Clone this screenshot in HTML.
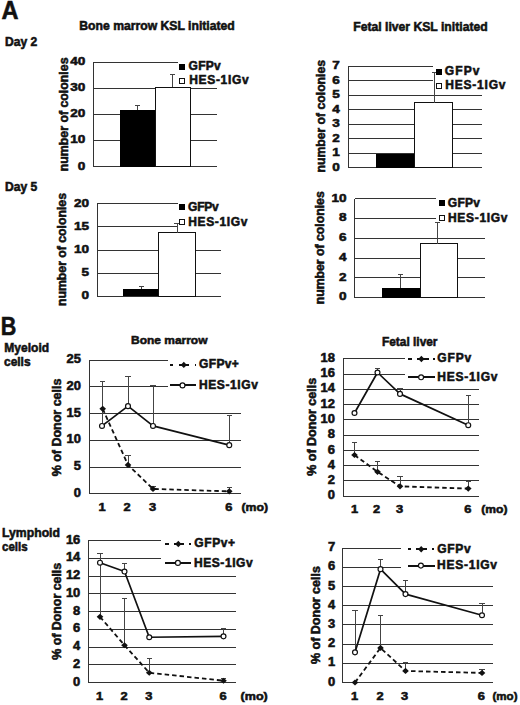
<!DOCTYPE html>
<html><head><meta charset="utf-8"><style>
html,body{margin:0;padding:0;background:#fff;width:520px;height:705px;overflow:hidden}
svg{display:block}
text{font-family:"Liberation Sans", sans-serif;fill:#111;stroke:#111;stroke-width:0.55px}
</style></head><body>
<svg width="520" height="705" viewBox="0 0 520 705">
<rect width="520" height="705" fill="#fff"/>
<text x="1.5" y="18.8" font-size="25.5" font-weight="bold" textLength="17" lengthAdjust="spacingAndGlyphs">A</text>
<text x="0.8" y="335" font-size="25.5" font-weight="bold" textLength="15.6" lengthAdjust="spacingAndGlyphs">B</text>
<text x="79.3" y="30.2" font-size="12" font-weight="bold" textLength="155.5" lengthAdjust="spacingAndGlyphs">Bone marrow KSL initiated</text>
<text x="353.2" y="31.2" font-size="12.3" font-weight="bold" textLength="134.5" lengthAdjust="spacingAndGlyphs">Fetal liver KSL initiated</text>
<text x="5" y="45.6" font-size="12.2" font-weight="bold" textLength="32.3" lengthAdjust="spacingAndGlyphs">Day 2</text>
<text x="5" y="190.6" font-size="12.2" font-weight="bold" textLength="32.3" lengthAdjust="spacingAndGlyphs">Day 5</text>
<text x="4.3" y="351.5" font-size="12.3" font-weight="bold" textLength="44.8" lengthAdjust="spacingAndGlyphs">Myeloid</text>
<text x="4" y="365.5" font-size="12.3" font-weight="bold" textLength="26.6" lengthAdjust="spacingAndGlyphs">cells</text>
<text x="2" y="537" font-size="12.3" font-weight="bold" textLength="58" lengthAdjust="spacingAndGlyphs">Lymphoid</text>
<text x="2" y="550.5" font-size="12.3" font-weight="bold" textLength="25.7" lengthAdjust="spacingAndGlyphs">cells</text>
<text x="131" y="344.3" font-size="11.7" font-weight="bold" textLength="76.5" lengthAdjust="spacingAndGlyphs">Bone marrow</text>
<text x="382" y="345.5" font-size="12" font-weight="bold" textLength="55.5" lengthAdjust="spacingAndGlyphs">Fetal liver</text>
<line x1="93.4" y1="166.7" x2="217" y2="166.7" stroke="#333" stroke-width="1" shape-rendering="crispEdges"/>
<text transform="translate(85.3,169.6) scale(1.18,1)" x="0" y="0" font-size="11.5" font-weight="bold" text-anchor="end">0</text>
<line x1="93.4" y1="140.52499999999998" x2="217" y2="140.52499999999998" stroke="#333" stroke-width="1" shape-rendering="crispEdges"/>
<text transform="translate(85.3,143.42499999999998) scale(1.18,1)" x="0" y="0" font-size="11.5" font-weight="bold" text-anchor="end">10</text>
<line x1="93.4" y1="114.35" x2="217" y2="114.35" stroke="#333" stroke-width="1" shape-rendering="crispEdges"/>
<text transform="translate(85.3,117.25) scale(1.18,1)" x="0" y="0" font-size="11.5" font-weight="bold" text-anchor="end">20</text>
<line x1="93.4" y1="88.175" x2="217" y2="88.175" stroke="#333" stroke-width="1" shape-rendering="crispEdges"/>
<text transform="translate(85.3,91.075) scale(1.18,1)" x="0" y="0" font-size="11.5" font-weight="bold" text-anchor="end">30</text>
<line x1="93.4" y1="62.0" x2="177.5" y2="62.0" stroke="#333" stroke-width="1" shape-rendering="crispEdges"/>
<text transform="translate(85.3,64.9) scale(1.18,1)" x="0" y="0" font-size="11.5" font-weight="bold" text-anchor="end">40</text>
<line x1="93.4" y1="62.0" x2="93.4" y2="166.7" stroke="#333" stroke-width="1" shape-rendering="crispEdges"/>
<rect x="119.5" y="110.42375" width="36.0" height="56.27624999999999" fill="#000" shape-rendering="crispEdges"/>
<rect x="155.5" y="87.128" width="35.0" height="79.57199999999999" fill="#fff" stroke="#111" stroke-width="1" shape-rendering="crispEdges"/>
<line x1="137.8" y1="110.42375" x2="137.8" y2="105.6" stroke="#444" stroke-width="1" shape-rendering="crispEdges"/>
<line x1="135.20000000000002" y1="105.6" x2="140.4" y2="105.6" stroke="#444" stroke-width="1" shape-rendering="crispEdges"/>
<line x1="172.8" y1="87.128" x2="172.8" y2="74.0" stroke="#444" stroke-width="1" shape-rendering="crispEdges"/>
<line x1="170.20000000000002" y1="74.0" x2="175.4" y2="74.0" stroke="#444" stroke-width="1" shape-rendering="crispEdges"/>
<text transform="translate(68.0,171.2) rotate(-90)" x="0" y="0" font-size="12" font-weight="bold" textLength="113.69999999999999" lengthAdjust="spacingAndGlyphs">number of colonies</text>
<rect x="179.3" y="63.5" width="6" height="6" fill="#000" shape-rendering="crispEdges"/>
<rect x="179.6" y="78.30000000000001" width="5.3" height="5.3" fill="#fff" stroke="#111" stroke-width="1" shape-rendering="crispEdges"/>
<text x="188.5" y="69.8" font-size="12" font-weight="bold" textLength="32.3" lengthAdjust="spacing">GFPv</text>
<text x="189.3" y="84.4" font-size="12" font-weight="bold" textLength="59.3" lengthAdjust="spacing">HES-1IGv</text>
<line x1="348.0" y1="167.75" x2="482" y2="167.75" stroke="#333" stroke-width="1" shape-rendering="crispEdges"/>
<text transform="translate(339.8,170.65) scale(1.18,1)" x="0" y="0" font-size="11.5" font-weight="bold" text-anchor="end">0</text>
<line x1="348.0" y1="153.25" x2="482" y2="153.25" stroke="#333" stroke-width="1" shape-rendering="crispEdges"/>
<text transform="translate(339.8,156.15) scale(1.18,1)" x="0" y="0" font-size="11.5" font-weight="bold" text-anchor="end">1</text>
<line x1="348.0" y1="138.75" x2="482" y2="138.75" stroke="#333" stroke-width="1" shape-rendering="crispEdges"/>
<text transform="translate(339.8,141.65) scale(1.18,1)" x="0" y="0" font-size="11.5" font-weight="bold" text-anchor="end">2</text>
<line x1="348.0" y1="124.25" x2="482" y2="124.25" stroke="#333" stroke-width="1" shape-rendering="crispEdges"/>
<text transform="translate(339.8,127.15) scale(1.18,1)" x="0" y="0" font-size="11.5" font-weight="bold" text-anchor="end">3</text>
<line x1="348.0" y1="109.75" x2="482" y2="109.75" stroke="#333" stroke-width="1" shape-rendering="crispEdges"/>
<text transform="translate(339.8,112.65) scale(1.18,1)" x="0" y="0" font-size="11.5" font-weight="bold" text-anchor="end">4</text>
<line x1="348.0" y1="95.25" x2="482" y2="95.25" stroke="#333" stroke-width="1" shape-rendering="crispEdges"/>
<text transform="translate(339.8,98.15) scale(1.18,1)" x="0" y="0" font-size="11.5" font-weight="bold" text-anchor="end">5</text>
<line x1="348.0" y1="80.75" x2="432.5" y2="80.75" stroke="#333" stroke-width="1" shape-rendering="crispEdges"/>
<text transform="translate(339.8,83.65) scale(1.18,1)" x="0" y="0" font-size="11.5" font-weight="bold" text-anchor="end">6</text>
<line x1="348.0" y1="66.25" x2="432.5" y2="66.25" stroke="#333" stroke-width="1" shape-rendering="crispEdges"/>
<text transform="translate(339.8,69.15) scale(1.18,1)" x="0" y="0" font-size="11.5" font-weight="bold" text-anchor="end">7</text>
<line x1="348.0" y1="66.25" x2="348.0" y2="167.75" stroke="#333" stroke-width="1" shape-rendering="crispEdges"/>
<rect x="376.25" y="153.685" width="38.25" height="14.064999999999998" fill="#000" shape-rendering="crispEdges"/>
<rect x="414.5" y="102.5" width="38.0" height="65.25" fill="#fff" stroke="#111" stroke-width="1" shape-rendering="crispEdges"/>
<line x1="434.5" y1="102.5" x2="434.5" y2="72.2" stroke="#444" stroke-width="1" shape-rendering="crispEdges"/>
<line x1="431.9" y1="72.2" x2="437.1" y2="72.2" stroke="#444" stroke-width="1" shape-rendering="crispEdges"/>
<text transform="translate(325.0,172.5) rotate(-90)" x="0" y="0" font-size="12" font-weight="bold" textLength="112.5" lengthAdjust="spacingAndGlyphs">number of colonies</text>
<rect x="436.1" y="68.5" width="6" height="6" fill="#000" shape-rendering="crispEdges"/>
<rect x="436.59999999999997" y="83.2" width="5.3" height="5.3" fill="#fff" stroke="#111" stroke-width="1" shape-rendering="crispEdges"/>
<text x="444.8" y="74.8" font-size="12" font-weight="bold" textLength="34.7" lengthAdjust="spacing">GFPv</text>
<text x="445.3" y="89.3" font-size="12" font-weight="bold" textLength="60.2" lengthAdjust="spacing">HES-1IGv</text>
<line x1="97.0" y1="296.25" x2="221.25" y2="296.25" stroke="#333" stroke-width="1" shape-rendering="crispEdges"/>
<text transform="translate(89.0,299.15) scale(1.18,1)" x="0" y="0" font-size="11.5" font-weight="bold" text-anchor="end">0</text>
<line x1="97.0" y1="273.125" x2="221.25" y2="273.125" stroke="#333" stroke-width="1" shape-rendering="crispEdges"/>
<text transform="translate(89.0,276.025) scale(1.18,1)" x="0" y="0" font-size="11.5" font-weight="bold" text-anchor="end">5</text>
<line x1="97.0" y1="250.0" x2="221.25" y2="250.0" stroke="#333" stroke-width="1" shape-rendering="crispEdges"/>
<text transform="translate(89.0,252.9) scale(1.18,1)" x="0" y="0" font-size="11.5" font-weight="bold" text-anchor="end">10</text>
<line x1="97.0" y1="226.875" x2="177.5" y2="226.875" stroke="#333" stroke-width="1" shape-rendering="crispEdges"/>
<text transform="translate(89.0,229.775) scale(1.18,1)" x="0" y="0" font-size="11.5" font-weight="bold" text-anchor="end">15</text>
<line x1="97.0" y1="203.75" x2="177.5" y2="203.75" stroke="#333" stroke-width="1" shape-rendering="crispEdges"/>
<text transform="translate(89.0,206.65) scale(1.18,1)" x="0" y="0" font-size="11.5" font-weight="bold" text-anchor="end">20</text>
<line x1="97.0" y1="203.75" x2="97.0" y2="296.25" stroke="#333" stroke-width="1" shape-rendering="crispEdges"/>
<rect x="123.25" y="288.85" width="35.5" height="7.399999999999977" fill="#000" shape-rendering="crispEdges"/>
<rect x="158.75" y="232.65625" width="36.25" height="63.59375" fill="#fff" stroke="#111" stroke-width="1" shape-rendering="crispEdges"/>
<line x1="141.25" y1="288.85" x2="141.25" y2="286.75" stroke="#444" stroke-width="1" shape-rendering="crispEdges"/>
<line x1="138.65" y1="286.75" x2="143.85" y2="286.75" stroke="#444" stroke-width="1" shape-rendering="crispEdges"/>
<line x1="177" y1="232.65625" x2="177" y2="223.75" stroke="#444" stroke-width="1" shape-rendering="crispEdges"/>
<line x1="174.4" y1="223.75" x2="179.6" y2="223.75" stroke="#444" stroke-width="1" shape-rendering="crispEdges"/>
<text transform="translate(65.8,306.0) rotate(-90)" x="0" y="0" font-size="12" font-weight="bold" textLength="113.0" lengthAdjust="spacingAndGlyphs">number of colonies</text>
<rect x="179.10000000000002" y="204.3" width="6" height="6" fill="#000" shape-rendering="crispEdges"/>
<rect x="179.4" y="219.4" width="5.3" height="5.3" fill="#fff" stroke="#111" stroke-width="1" shape-rendering="crispEdges"/>
<text x="188.0" y="210.5" font-size="12" font-weight="bold" textLength="30.8" lengthAdjust="spacing">GFPv</text>
<text x="188.2" y="225.5" font-size="12" font-weight="bold" textLength="59.3" lengthAdjust="spacing">HES-1IGv</text>
<line x1="354.5" y1="297.5" x2="484.5" y2="297.5" stroke="#333" stroke-width="1" shape-rendering="crispEdges"/>
<text transform="translate(346.5,300.4) scale(1.18,1)" x="0" y="0" font-size="11.5" font-weight="bold" text-anchor="end">0</text>
<line x1="354.5" y1="277.75" x2="484.5" y2="277.75" stroke="#333" stroke-width="1" shape-rendering="crispEdges"/>
<text transform="translate(346.5,280.65) scale(1.18,1)" x="0" y="0" font-size="11.5" font-weight="bold" text-anchor="end">2</text>
<line x1="354.5" y1="258.0" x2="484.5" y2="258.0" stroke="#333" stroke-width="1" shape-rendering="crispEdges"/>
<text transform="translate(346.5,260.9) scale(1.18,1)" x="0" y="0" font-size="11.5" font-weight="bold" text-anchor="end">4</text>
<line x1="354.5" y1="238.25" x2="484.5" y2="238.25" stroke="#333" stroke-width="1" shape-rendering="crispEdges"/>
<text transform="translate(346.5,241.15) scale(1.18,1)" x="0" y="0" font-size="11.5" font-weight="bold" text-anchor="end">6</text>
<line x1="354.5" y1="218.5" x2="436" y2="218.5" stroke="#333" stroke-width="1" shape-rendering="crispEdges"/>
<text transform="translate(346.5,221.4) scale(1.18,1)" x="0" y="0" font-size="11.5" font-weight="bold" text-anchor="end">8</text>
<line x1="354.5" y1="198.75" x2="436" y2="198.75" stroke="#333" stroke-width="1" shape-rendering="crispEdges"/>
<text transform="translate(346.5,201.65) scale(1.18,1)" x="0" y="0" font-size="11.5" font-weight="bold" text-anchor="end">10</text>
<line x1="354.5" y1="198.75" x2="354.5" y2="297.5" stroke="#333" stroke-width="1" shape-rendering="crispEdges"/>
<rect x="382" y="288.11875" width="38" height="9.381250000000023" fill="#000" shape-rendering="crispEdges"/>
<rect x="420" y="243.68125" width="37.5" height="53.818749999999994" fill="#fff" stroke="#111" stroke-width="1" shape-rendering="crispEdges"/>
<line x1="400.75" y1="288.11875" x2="400.75" y2="274.0" stroke="#444" stroke-width="1" shape-rendering="crispEdges"/>
<line x1="398.15" y1="274.0" x2="403.35" y2="274.0" stroke="#444" stroke-width="1" shape-rendering="crispEdges"/>
<line x1="437.5" y1="243.68125" x2="437.5" y2="222.5" stroke="#444" stroke-width="1" shape-rendering="crispEdges"/>
<line x1="434.9" y1="222.5" x2="440.1" y2="222.5" stroke="#444" stroke-width="1" shape-rendering="crispEdges"/>
<text transform="translate(324.3,304.3) rotate(-90)" x="0" y="0" font-size="12" font-weight="bold" textLength="113.0" lengthAdjust="spacingAndGlyphs">number of colonies</text>
<rect x="439.1" y="200.4" width="6" height="6" fill="#000" shape-rendering="crispEdges"/>
<rect x="439.4" y="215.4" width="5.3" height="5.3" fill="#fff" stroke="#111" stroke-width="1" shape-rendering="crispEdges"/>
<text x="447.8" y="207.3" font-size="12" font-weight="bold" textLength="32.2" lengthAdjust="spacing">GFPv</text>
<text x="448.0" y="222.3" font-size="12" font-weight="bold" textLength="59.5" lengthAdjust="spacing">HES-1IGv</text>
<line x1="89.3" y1="493.75" x2="240.75" y2="493.75" stroke="#333" stroke-width="1" shape-rendering="crispEdges"/>
<text transform="translate(81.0,496.85) scale(1.08,1)" x="0" y="0" font-size="12" font-weight="bold" text-anchor="end">0</text>
<line x1="89.3" y1="467.05" x2="240.75" y2="467.05" stroke="#333" stroke-width="1" shape-rendering="crispEdges"/>
<text transform="translate(81.0,470.15000000000003) scale(1.08,1)" x="0" y="0" font-size="12" font-weight="bold" text-anchor="end">5</text>
<line x1="89.3" y1="440.35" x2="240.75" y2="440.35" stroke="#333" stroke-width="1" shape-rendering="crispEdges"/>
<text transform="translate(81.0,443.45000000000005) scale(1.08,1)" x="0" y="0" font-size="12" font-weight="bold" text-anchor="end">10</text>
<line x1="89.3" y1="413.65" x2="240.75" y2="413.65" stroke="#333" stroke-width="1" shape-rendering="crispEdges"/>
<text transform="translate(81.0,416.75) scale(1.08,1)" x="0" y="0" font-size="12" font-weight="bold" text-anchor="end">15</text>
<line x1="89.3" y1="386.95" x2="167.5" y2="386.95" stroke="#333" stroke-width="1" shape-rendering="crispEdges"/>
<text transform="translate(81.0,390.05) scale(1.08,1)" x="0" y="0" font-size="12" font-weight="bold" text-anchor="end">20</text>
<line x1="89.3" y1="360.25" x2="167.5" y2="360.25" stroke="#333" stroke-width="1" shape-rendering="crispEdges"/>
<text transform="translate(81.0,363.35) scale(1.08,1)" x="0" y="0" font-size="12" font-weight="bold" text-anchor="end">25</text>
<line x1="89.3" y1="360.25" x2="89.3" y2="493.75" stroke="#333" stroke-width="1" shape-rendering="crispEdges"/>
<text transform="translate(102,511.3) scale(1.17,1)" x="0" y="0" font-size="11" font-weight="bold" text-anchor="middle">1</text>
<text transform="translate(127.2,511.3) scale(1.17,1)" x="0" y="0" font-size="11" font-weight="bold" text-anchor="middle">2</text>
<text transform="translate(152.6,511.3) scale(1.17,1)" x="0" y="0" font-size="11" font-weight="bold" text-anchor="middle">3</text>
<text transform="translate(228.8,511.3) scale(1.17,1)" x="0" y="0" font-size="11" font-weight="bold" text-anchor="middle">6</text>
<text x="241.5" y="511.3" font-size="11" font-weight="bold" textLength="26.600000000000023" lengthAdjust="spacingAndGlyphs">(mo)</text>
<line x1="102.6" y1="425.932" x2="102.6" y2="381.25" stroke="#444" stroke-width="1" shape-rendering="crispEdges"/>
<line x1="100.0" y1="381.25" x2="105.19999999999999" y2="381.25" stroke="#444" stroke-width="1" shape-rendering="crispEdges"/>
<line x1="128" y1="406.174" x2="128" y2="376.25" stroke="#444" stroke-width="1" shape-rendering="crispEdges"/>
<line x1="125.4" y1="376.25" x2="130.6" y2="376.25" stroke="#444" stroke-width="1" shape-rendering="crispEdges"/>
<line x1="153" y1="425.932" x2="153" y2="385.0" stroke="#444" stroke-width="1" shape-rendering="crispEdges"/>
<line x1="150.4" y1="385.0" x2="155.6" y2="385.0" stroke="#444" stroke-width="1" shape-rendering="crispEdges"/>
<line x1="229.25" y1="445.156" x2="229.25" y2="415.75" stroke="#444" stroke-width="1" shape-rendering="crispEdges"/>
<line x1="226.65" y1="415.75" x2="231.85" y2="415.75" stroke="#444" stroke-width="1" shape-rendering="crispEdges"/>
<line x1="128" y1="464.914" x2="128" y2="455.0" stroke="#444" stroke-width="1" shape-rendering="crispEdges"/>
<line x1="125.4" y1="455.0" x2="130.6" y2="455.0" stroke="#444" stroke-width="1" shape-rendering="crispEdges"/>
<line x1="153" y1="488.944" x2="153" y2="486.25" stroke="#444" stroke-width="1" shape-rendering="crispEdges"/>
<line x1="150.4" y1="486.25" x2="155.6" y2="486.25" stroke="#444" stroke-width="1" shape-rendering="crispEdges"/>
<line x1="229.25" y1="491.347" x2="229.25" y2="487.0" stroke="#444" stroke-width="1" shape-rendering="crispEdges"/>
<line x1="226.65" y1="487.0" x2="231.85" y2="487.0" stroke="#444" stroke-width="1" shape-rendering="crispEdges"/>
<polyline points="102.7,408.844 128,464.914 153,488.944 229.25,491.347" fill="none" stroke="#111" stroke-width="1.8" stroke-dasharray="4.5 3" stroke-linejoin="round"/>
<polyline points="102,425.932 128,406.174 153,425.932 229.25,445.156" fill="none" stroke="#111" stroke-width="1.7" stroke-linejoin="round"/>
<path d="M102.7 405.74399999999997L106.0 408.844L102.7 411.944L99.4 408.844Z" fill="#111"/>
<path d="M128 461.81399999999996L131.3 464.914L128 468.014L124.7 464.914Z" fill="#111"/>
<path d="M153 485.844L156.3 488.944L153 492.04400000000004L149.7 488.944Z" fill="#111"/>
<path d="M229.25 488.24699999999996L232.55 491.347L229.25 494.447L225.95 491.347Z" fill="#111"/>
<circle cx="102" cy="425.932" r="2.45" fill="#fff" stroke="#111" stroke-width="1.2"/>
<circle cx="128" cy="406.174" r="2.45" fill="#fff" stroke="#111" stroke-width="1.2"/>
<circle cx="153" cy="425.932" r="2.45" fill="#fff" stroke="#111" stroke-width="1.2"/>
<circle cx="229.25" cy="445.156" r="2.45" fill="#fff" stroke="#111" stroke-width="1.2"/>
<text transform="translate(60.5,476.3) rotate(-90)" x="0" y="0" font-size="12" font-weight="bold" textLength="97.69999999999999" lengthAdjust="spacingAndGlyphs">% of Donor cells</text>
<line x1="170.1" y1="364.9" x2="173.3" y2="364.9" stroke="#111" stroke-width="2" shape-rendering="crispEdges"/>
<line x1="178.5" y1="364.9" x2="189.2" y2="364.9" stroke="#111" stroke-width="2" shape-rendering="crispEdges"/>
<path d="M183.8 361.7L186.9 364.9L183.8 368.09999999999997L180.70000000000002 364.9Z" fill="#111"/>
<line x1="194.5" y1="364.9" x2="196.3" y2="364.9" stroke="#111" stroke-width="2" shape-rendering="crispEdges"/>
<text x="199.0" y="368.4" font-size="12" font-weight="bold" textLength="39.8" lengthAdjust="spacing">GFPv+</text>
<line x1="169.6" y1="385.4" x2="196" y2="385.4" stroke="#111" stroke-width="2" shape-rendering="crispEdges"/>
<circle cx="182.5" cy="385.4" r="2.45" fill="#fff" stroke="#111" stroke-width="1.2"/>
<text x="199.0" y="389.0" font-size="12" font-weight="bold" textLength="58.9" lengthAdjust="spacing">HES-1IGv</text>
<line x1="343.25" y1="496.25" x2="478.75" y2="496.25" stroke="#333" stroke-width="1" shape-rendering="crispEdges"/>
<text transform="translate(335.0,499.35) scale(1.08,1)" x="0" y="0" font-size="12" font-weight="bold" text-anchor="end">0</text>
<line x1="343.25" y1="480.97222222222223" x2="478.75" y2="480.97222222222223" stroke="#333" stroke-width="1" shape-rendering="crispEdges"/>
<text transform="translate(335.0,484.07222222222225) scale(1.08,1)" x="0" y="0" font-size="12" font-weight="bold" text-anchor="end">2</text>
<line x1="343.25" y1="465.69444444444446" x2="478.75" y2="465.69444444444446" stroke="#333" stroke-width="1" shape-rendering="crispEdges"/>
<text transform="translate(335.0,468.7944444444445) scale(1.08,1)" x="0" y="0" font-size="12" font-weight="bold" text-anchor="end">4</text>
<line x1="343.25" y1="450.4166666666667" x2="478.75" y2="450.4166666666667" stroke="#333" stroke-width="1" shape-rendering="crispEdges"/>
<text transform="translate(335.0,453.5166666666667) scale(1.08,1)" x="0" y="0" font-size="12" font-weight="bold" text-anchor="end">6</text>
<line x1="343.25" y1="435.1388888888889" x2="478.75" y2="435.1388888888889" stroke="#333" stroke-width="1" shape-rendering="crispEdges"/>
<text transform="translate(335.0,438.23888888888894) scale(1.08,1)" x="0" y="0" font-size="12" font-weight="bold" text-anchor="end">8</text>
<line x1="343.25" y1="419.8611111111111" x2="478.75" y2="419.8611111111111" stroke="#333" stroke-width="1" shape-rendering="crispEdges"/>
<text transform="translate(335.0,422.9611111111111) scale(1.08,1)" x="0" y="0" font-size="12" font-weight="bold" text-anchor="end">10</text>
<line x1="343.25" y1="404.5833333333333" x2="478.75" y2="404.5833333333333" stroke="#333" stroke-width="1" shape-rendering="crispEdges"/>
<text transform="translate(335.0,407.68333333333334) scale(1.08,1)" x="0" y="0" font-size="12" font-weight="bold" text-anchor="end">12</text>
<line x1="343.25" y1="389.30555555555554" x2="478.75" y2="389.30555555555554" stroke="#333" stroke-width="1" shape-rendering="crispEdges"/>
<text transform="translate(335.0,392.40555555555557) scale(1.08,1)" x="0" y="0" font-size="12" font-weight="bold" text-anchor="end">14</text>
<line x1="343.25" y1="374.02777777777777" x2="405" y2="374.02777777777777" stroke="#333" stroke-width="1" shape-rendering="crispEdges"/>
<text transform="translate(335.0,377.1277777777778) scale(1.08,1)" x="0" y="0" font-size="12" font-weight="bold" text-anchor="end">16</text>
<line x1="343.25" y1="358.75" x2="405" y2="358.75" stroke="#333" stroke-width="1" shape-rendering="crispEdges"/>
<text transform="translate(335.0,361.85) scale(1.08,1)" x="0" y="0" font-size="12" font-weight="bold" text-anchor="end">18</text>
<line x1="343.25" y1="358.75" x2="343.25" y2="496.25" stroke="#333" stroke-width="1" shape-rendering="crispEdges"/>
<text transform="translate(354.5,513.2) scale(1.17,1)" x="0" y="0" font-size="11" font-weight="bold" text-anchor="middle">1</text>
<text transform="translate(376.5,513.2) scale(1.17,1)" x="0" y="0" font-size="11" font-weight="bold" text-anchor="middle">2</text>
<text transform="translate(399.5,513.2) scale(1.17,1)" x="0" y="0" font-size="11" font-weight="bold" text-anchor="middle">3</text>
<text transform="translate(467.8,513.2) scale(1.17,1)" x="0" y="0" font-size="11" font-weight="bold" text-anchor="middle">6</text>
<text x="481.3" y="513.2" font-size="11" font-weight="bold" textLength="26.19999999999999" lengthAdjust="spacingAndGlyphs">(mo)</text>
<line x1="377.5" y1="372.5" x2="377.5" y2="368.25" stroke="#444" stroke-width="1" shape-rendering="crispEdges"/>
<line x1="374.9" y1="368.25" x2="380.1" y2="368.25" stroke="#444" stroke-width="1" shape-rendering="crispEdges"/>
<line x1="400" y1="393.8888888888889" x2="400" y2="388.75" stroke="#444" stroke-width="1" shape-rendering="crispEdges"/>
<line x1="397.4" y1="388.75" x2="402.6" y2="388.75" stroke="#444" stroke-width="1" shape-rendering="crispEdges"/>
<line x1="468.25" y1="425.2083333333333" x2="468.25" y2="395.5" stroke="#444" stroke-width="1" shape-rendering="crispEdges"/>
<line x1="465.65" y1="395.5" x2="470.85" y2="395.5" stroke="#444" stroke-width="1" shape-rendering="crispEdges"/>
<line x1="354.5" y1="455.0" x2="354.5" y2="442.0" stroke="#444" stroke-width="1" shape-rendering="crispEdges"/>
<line x1="351.9" y1="442.0" x2="357.1" y2="442.0" stroke="#444" stroke-width="1" shape-rendering="crispEdges"/>
<line x1="377.5" y1="471.80555555555554" x2="377.5" y2="461.75" stroke="#444" stroke-width="1" shape-rendering="crispEdges"/>
<line x1="374.9" y1="461.75" x2="380.1" y2="461.75" stroke="#444" stroke-width="1" shape-rendering="crispEdges"/>
<line x1="400" y1="486.31944444444446" x2="400" y2="476.75" stroke="#444" stroke-width="1" shape-rendering="crispEdges"/>
<line x1="397.4" y1="476.75" x2="402.6" y2="476.75" stroke="#444" stroke-width="1" shape-rendering="crispEdges"/>
<line x1="468.25" y1="488.6111111111111" x2="468.25" y2="481.25" stroke="#444" stroke-width="1" shape-rendering="crispEdges"/>
<line x1="465.65" y1="481.25" x2="470.85" y2="481.25" stroke="#444" stroke-width="1" shape-rendering="crispEdges"/>
<polyline points="354.5,455.0 377.5,471.80555555555554 400,486.31944444444446 468.25,488.6111111111111" fill="none" stroke="#111" stroke-width="1.8" stroke-dasharray="4.5 3" stroke-linejoin="round"/>
<polyline points="354.5,412.9861111111111 377.5,372.5 400,393.8888888888889 468.25,425.2083333333333" fill="none" stroke="#111" stroke-width="1.7" stroke-linejoin="round"/>
<path d="M354.5 451.9L357.8 455.0L354.5 458.1L351.2 455.0Z" fill="#111"/>
<path d="M377.5 468.7055555555555L380.8 471.80555555555554L377.5 474.90555555555557L374.2 471.80555555555554Z" fill="#111"/>
<path d="M400 483.21944444444443L403.3 486.31944444444446L400 489.4194444444445L396.7 486.31944444444446Z" fill="#111"/>
<path d="M468.25 485.51111111111106L471.55 488.6111111111111L468.25 491.7111111111111L464.95 488.6111111111111Z" fill="#111"/>
<circle cx="354.5" cy="412.9861111111111" r="2.45" fill="#fff" stroke="#111" stroke-width="1.2"/>
<circle cx="377.5" cy="372.5" r="2.45" fill="#fff" stroke="#111" stroke-width="1.2"/>
<circle cx="400" cy="393.8888888888889" r="2.45" fill="#fff" stroke="#111" stroke-width="1.2"/>
<circle cx="468.25" cy="425.2083333333333" r="2.45" fill="#fff" stroke="#111" stroke-width="1.2"/>
<text transform="translate(316.3,475.8) rotate(-90)" x="0" y="0" font-size="12" font-weight="bold" textLength="97.90000000000003" lengthAdjust="spacingAndGlyphs">% of Donor cells</text>
<line x1="408" y1="359.0" x2="412.3" y2="359.0" stroke="#111" stroke-width="2" shape-rendering="crispEdges"/>
<line x1="417" y1="359.0" x2="428.7" y2="359.0" stroke="#111" stroke-width="2" shape-rendering="crispEdges"/>
<path d="M421.4 355.8L424.5 359.0L421.4 362.2L418.29999999999995 359.0Z" fill="#111"/>
<line x1="433.1" y1="359.0" x2="434.9" y2="359.0" stroke="#111" stroke-width="2" shape-rendering="crispEdges"/>
<text x="437.3" y="362.0" font-size="12" font-weight="bold" textLength="34.0" lengthAdjust="spacing">GFPv</text>
<line x1="408" y1="377.3" x2="434.8" y2="377.3" stroke="#111" stroke-width="2" shape-rendering="crispEdges"/>
<circle cx="421.1" cy="377.3" r="2.45" fill="#fff" stroke="#111" stroke-width="1.2"/>
<text x="437.3" y="381.1" font-size="12" font-weight="bold" textLength="60.2" lengthAdjust="spacing">HES-1IGv</text>
<line x1="88.0" y1="682.5" x2="235.5" y2="682.5" stroke="#333" stroke-width="1" shape-rendering="crispEdges"/>
<text transform="translate(80.3,685.6) scale(1.08,1)" x="0" y="0" font-size="12" font-weight="bold" text-anchor="end">0</text>
<line x1="88.0" y1="664.75" x2="235.5" y2="664.75" stroke="#333" stroke-width="1" shape-rendering="crispEdges"/>
<text transform="translate(80.3,667.85) scale(1.08,1)" x="0" y="0" font-size="12" font-weight="bold" text-anchor="end">2</text>
<line x1="88.0" y1="647.0" x2="235.5" y2="647.0" stroke="#333" stroke-width="1" shape-rendering="crispEdges"/>
<text transform="translate(80.3,650.1) scale(1.08,1)" x="0" y="0" font-size="12" font-weight="bold" text-anchor="end">4</text>
<line x1="88.0" y1="629.25" x2="235.5" y2="629.25" stroke="#333" stroke-width="1" shape-rendering="crispEdges"/>
<text transform="translate(80.3,632.35) scale(1.08,1)" x="0" y="0" font-size="12" font-weight="bold" text-anchor="end">6</text>
<line x1="88.0" y1="611.5" x2="235.5" y2="611.5" stroke="#333" stroke-width="1" shape-rendering="crispEdges"/>
<text transform="translate(80.3,614.6) scale(1.08,1)" x="0" y="0" font-size="12" font-weight="bold" text-anchor="end">8</text>
<line x1="88.0" y1="593.75" x2="235.5" y2="593.75" stroke="#333" stroke-width="1" shape-rendering="crispEdges"/>
<text transform="translate(80.3,596.85) scale(1.08,1)" x="0" y="0" font-size="12" font-weight="bold" text-anchor="end">10</text>
<line x1="88.0" y1="576.0" x2="235.5" y2="576.0" stroke="#333" stroke-width="1" shape-rendering="crispEdges"/>
<text transform="translate(80.3,579.1) scale(1.08,1)" x="0" y="0" font-size="12" font-weight="bold" text-anchor="end">12</text>
<line x1="88.0" y1="558.25" x2="161.25" y2="558.25" stroke="#333" stroke-width="1" shape-rendering="crispEdges"/>
<text transform="translate(80.3,561.35) scale(1.08,1)" x="0" y="0" font-size="12" font-weight="bold" text-anchor="end">14</text>
<line x1="88.0" y1="540.5" x2="161.25" y2="540.5" stroke="#333" stroke-width="1" shape-rendering="crispEdges"/>
<text transform="translate(80.3,543.6) scale(1.08,1)" x="0" y="0" font-size="12" font-weight="bold" text-anchor="end">16</text>
<line x1="88.0" y1="540.5" x2="88.0" y2="682.5" stroke="#333" stroke-width="1" shape-rendering="crispEdges"/>
<text transform="translate(99.6,700.4) scale(1.17,1)" x="0" y="0" font-size="11" font-weight="bold" text-anchor="middle">1</text>
<text transform="translate(124.2,700.4) scale(1.17,1)" x="0" y="0" font-size="11" font-weight="bold" text-anchor="middle">2</text>
<text transform="translate(148.8,700.4) scale(1.17,1)" x="0" y="0" font-size="11" font-weight="bold" text-anchor="middle">3</text>
<text transform="translate(223.2,700.4) scale(1.17,1)" x="0" y="0" font-size="11" font-weight="bold" text-anchor="middle">6</text>
<text x="240.6" y="700.4" font-size="11" font-weight="bold" textLength="27.200000000000017" lengthAdjust="spacingAndGlyphs">(mo)</text>
<line x1="100" y1="562.6875" x2="100" y2="553.0" stroke="#444" stroke-width="1" shape-rendering="crispEdges"/>
<line x1="97.4" y1="553.0" x2="102.6" y2="553.0" stroke="#444" stroke-width="1" shape-rendering="crispEdges"/>
<line x1="124.5" y1="571.5625" x2="124.5" y2="563.0" stroke="#444" stroke-width="1" shape-rendering="crispEdges"/>
<line x1="121.9" y1="563.0" x2="127.1" y2="563.0" stroke="#444" stroke-width="1" shape-rendering="crispEdges"/>
<line x1="223.5" y1="636.35" x2="223.5" y2="628.75" stroke="#444" stroke-width="1" shape-rendering="crispEdges"/>
<line x1="220.9" y1="628.75" x2="226.1" y2="628.75" stroke="#444" stroke-width="1" shape-rendering="crispEdges"/>
<line x1="100" y1="616.825" x2="100" y2="553.0" stroke="#444" stroke-width="1" shape-rendering="crispEdges"/>
<line x1="97.4" y1="553.0" x2="102.6" y2="553.0" stroke="#444" stroke-width="1" shape-rendering="crispEdges"/>
<line x1="124.5" y1="645.225" x2="124.5" y2="598.5" stroke="#444" stroke-width="1" shape-rendering="crispEdges"/>
<line x1="121.9" y1="598.5" x2="127.1" y2="598.5" stroke="#444" stroke-width="1" shape-rendering="crispEdges"/>
<line x1="149.25" y1="672.7375" x2="149.25" y2="658.75" stroke="#444" stroke-width="1" shape-rendering="crispEdges"/>
<line x1="146.65" y1="658.75" x2="151.85" y2="658.75" stroke="#444" stroke-width="1" shape-rendering="crispEdges"/>
<line x1="223.5" y1="680.725" x2="223.5" y2="678.0" stroke="#444" stroke-width="1" shape-rendering="crispEdges"/>
<line x1="220.9" y1="678.0" x2="226.1" y2="678.0" stroke="#444" stroke-width="1" shape-rendering="crispEdges"/>
<polyline points="100,616.825 124.5,645.225 149.25,672.7375 223.5,680.725" fill="none" stroke="#111" stroke-width="1.8" stroke-dasharray="4.5 3" stroke-linejoin="round"/>
<polyline points="100,562.6875 124.5,571.5625 149.25,637.2375 223.5,636.35" fill="none" stroke="#111" stroke-width="1.7" stroke-linejoin="round"/>
<path d="M100 613.725L103.3 616.825L100 619.9250000000001L96.7 616.825Z" fill="#111"/>
<path d="M124.5 642.125L127.8 645.225L124.5 648.325L121.2 645.225Z" fill="#111"/>
<path d="M149.25 669.6374999999999L152.55 672.7375L149.25 675.8375L145.95 672.7375Z" fill="#111"/>
<path d="M223.5 677.625L226.8 680.725L223.5 683.825L220.2 680.725Z" fill="#111"/>
<circle cx="100" cy="562.6875" r="2.45" fill="#fff" stroke="#111" stroke-width="1.2"/>
<circle cx="124.5" cy="571.5625" r="2.45" fill="#fff" stroke="#111" stroke-width="1.2"/>
<circle cx="149.25" cy="637.2375" r="2.45" fill="#fff" stroke="#111" stroke-width="1.2"/>
<circle cx="223.5" cy="636.35" r="2.45" fill="#fff" stroke="#111" stroke-width="1.2"/>
<text transform="translate(61.3,659.8) rotate(-90)" x="0" y="0" font-size="12" font-weight="bold" textLength="97.0" lengthAdjust="spacingAndGlyphs">% of Donor cells</text>
<line x1="165.1" y1="544.0" x2="168.5" y2="544.0" stroke="#111" stroke-width="2" shape-rendering="crispEdges"/>
<line x1="173.8" y1="544.0" x2="183.9" y2="544.0" stroke="#111" stroke-width="2" shape-rendering="crispEdges"/>
<path d="M178.3 540.8L181.4 544.0L178.3 547.2L175.20000000000002 544.0Z" fill="#111"/>
<line x1="189.2" y1="544.0" x2="191.0" y2="544.0" stroke="#111" stroke-width="2" shape-rendering="crispEdges"/>
<text x="194.3" y="547.1" font-size="12" font-weight="bold" textLength="40.8" lengthAdjust="spacing">GFPv+</text>
<line x1="165.1" y1="562.9" x2="190.7" y2="562.9" stroke="#111" stroke-width="2" shape-rendering="crispEdges"/>
<circle cx="177.9" cy="562.9" r="2.45" fill="#fff" stroke="#111" stroke-width="1.2"/>
<text x="194.0" y="566.9" font-size="12" font-weight="bold" textLength="58.6" lengthAdjust="spacing">HES-1IGv</text>
<line x1="342.6" y1="682.5" x2="493.25" y2="682.5" stroke="#333" stroke-width="1" shape-rendering="crispEdges"/>
<text transform="translate(335.3,685.6) scale(1.08,1)" x="0" y="0" font-size="12" font-weight="bold" text-anchor="end">0</text>
<line x1="342.6" y1="663.2857142857143" x2="493.25" y2="663.2857142857143" stroke="#333" stroke-width="1" shape-rendering="crispEdges"/>
<text transform="translate(335.3,666.3857142857144) scale(1.08,1)" x="0" y="0" font-size="12" font-weight="bold" text-anchor="end">1</text>
<line x1="342.6" y1="644.0714285714286" x2="493.25" y2="644.0714285714286" stroke="#333" stroke-width="1" shape-rendering="crispEdges"/>
<text transform="translate(335.3,647.1714285714286) scale(1.08,1)" x="0" y="0" font-size="12" font-weight="bold" text-anchor="end">2</text>
<line x1="342.6" y1="624.8571428571429" x2="493.25" y2="624.8571428571429" stroke="#333" stroke-width="1" shape-rendering="crispEdges"/>
<text transform="translate(335.3,627.9571428571429) scale(1.08,1)" x="0" y="0" font-size="12" font-weight="bold" text-anchor="end">3</text>
<line x1="342.6" y1="605.6428571428571" x2="493.25" y2="605.6428571428571" stroke="#333" stroke-width="1" shape-rendering="crispEdges"/>
<text transform="translate(335.3,608.7428571428571) scale(1.08,1)" x="0" y="0" font-size="12" font-weight="bold" text-anchor="end">4</text>
<line x1="342.6" y1="586.4285714285714" x2="493.25" y2="586.4285714285714" stroke="#333" stroke-width="1" shape-rendering="crispEdges"/>
<text transform="translate(335.3,589.5285714285715) scale(1.08,1)" x="0" y="0" font-size="12" font-weight="bold" text-anchor="end">5</text>
<line x1="342.6" y1="567.2142857142857" x2="401.25" y2="567.2142857142857" stroke="#333" stroke-width="1" shape-rendering="crispEdges"/>
<text transform="translate(335.3,570.3142857142857) scale(1.08,1)" x="0" y="0" font-size="12" font-weight="bold" text-anchor="end">6</text>
<line x1="342.6" y1="548.0" x2="401.25" y2="548.0" stroke="#333" stroke-width="1" shape-rendering="crispEdges"/>
<text transform="translate(335.3,551.1) scale(1.08,1)" x="0" y="0" font-size="12" font-weight="bold" text-anchor="end">7</text>
<line x1="342.6" y1="548.0" x2="342.6" y2="682.5" stroke="#333" stroke-width="1" shape-rendering="crispEdges"/>
<text transform="translate(354.5,700.2) scale(1.17,1)" x="0" y="0" font-size="11" font-weight="bold" text-anchor="middle">1</text>
<text transform="translate(380.2,700.2) scale(1.17,1)" x="0" y="0" font-size="11" font-weight="bold" text-anchor="middle">2</text>
<text transform="translate(404.6,700.2) scale(1.17,1)" x="0" y="0" font-size="11" font-weight="bold" text-anchor="middle">3</text>
<text transform="translate(481.4,700.2) scale(1.17,1)" x="0" y="0" font-size="11" font-weight="bold" text-anchor="middle">6</text>
<text x="492.5" y="700.2" font-size="11" font-weight="bold" textLength="25.0" lengthAdjust="spacingAndGlyphs">(mo)</text>
<line x1="355" y1="652.3335714285714" x2="355" y2="610.0" stroke="#444" stroke-width="1" shape-rendering="crispEdges"/>
<line x1="352.4" y1="610.0" x2="357.6" y2="610.0" stroke="#444" stroke-width="1" shape-rendering="crispEdges"/>
<line x1="380.5" y1="569.1357142857142" x2="380.5" y2="559.25" stroke="#444" stroke-width="1" shape-rendering="crispEdges"/>
<line x1="377.9" y1="559.25" x2="383.1" y2="559.25" stroke="#444" stroke-width="1" shape-rendering="crispEdges"/>
<line x1="405.5" y1="594.1142857142858" x2="405.5" y2="580.5" stroke="#444" stroke-width="1" shape-rendering="crispEdges"/>
<line x1="402.9" y1="580.5" x2="408.1" y2="580.5" stroke="#444" stroke-width="1" shape-rendering="crispEdges"/>
<line x1="482" y1="615.25" x2="482" y2="603.25" stroke="#444" stroke-width="1" shape-rendering="crispEdges"/>
<line x1="479.4" y1="603.25" x2="484.6" y2="603.25" stroke="#444" stroke-width="1" shape-rendering="crispEdges"/>
<line x1="380.5" y1="647.9142857142857" x2="380.5" y2="615.5" stroke="#444" stroke-width="1" shape-rendering="crispEdges"/>
<line x1="377.9" y1="615.5" x2="383.1" y2="615.5" stroke="#444" stroke-width="1" shape-rendering="crispEdges"/>
<line x1="405.5" y1="670.9714285714285" x2="405.5" y2="662.0" stroke="#444" stroke-width="1" shape-rendering="crispEdges"/>
<line x1="402.9" y1="662.0" x2="408.1" y2="662.0" stroke="#444" stroke-width="1" shape-rendering="crispEdges"/>
<line x1="482" y1="672.8928571428571" x2="482" y2="669.5" stroke="#444" stroke-width="1" shape-rendering="crispEdges"/>
<line x1="479.4" y1="669.5" x2="484.6" y2="669.5" stroke="#444" stroke-width="1" shape-rendering="crispEdges"/>
<polyline points="355,682.5 380.5,647.9142857142857 405.5,670.9714285714285 482,672.8928571428571" fill="none" stroke="#111" stroke-width="1.8" stroke-dasharray="4.5 3" stroke-linejoin="round"/>
<polyline points="355,652.3335714285714 380.5,569.1357142857142 405.5,594.1142857142858 482,615.25" fill="none" stroke="#111" stroke-width="1.7" stroke-linejoin="round"/>
<path d="M355 679.4L358.3 682.5L355 685.6L351.7 682.5Z" fill="#111"/>
<path d="M380.5 644.8142857142857L383.8 647.9142857142857L380.5 651.0142857142857L377.2 647.9142857142857Z" fill="#111"/>
<path d="M405.5 667.8714285714285L408.8 670.9714285714285L405.5 674.0714285714286L402.2 670.9714285714285Z" fill="#111"/>
<path d="M482 669.7928571428571L485.3 672.8928571428571L482 675.9928571428571L478.7 672.8928571428571Z" fill="#111"/>
<circle cx="355" cy="652.3335714285714" r="2.45" fill="#fff" stroke="#111" stroke-width="1.2"/>
<circle cx="380.5" cy="569.1357142857142" r="2.45" fill="#fff" stroke="#111" stroke-width="1.2"/>
<circle cx="405.5" cy="594.1142857142858" r="2.45" fill="#fff" stroke="#111" stroke-width="1.2"/>
<circle cx="482" cy="615.25" r="2.45" fill="#fff" stroke="#111" stroke-width="1.2"/>
<text transform="translate(319.8,664.0) rotate(-90)" x="0" y="0" font-size="12" font-weight="bold" textLength="97.89999999999998" lengthAdjust="spacingAndGlyphs">% of Donor cells</text>
<line x1="408" y1="549.2" x2="411" y2="549.2" stroke="#111" stroke-width="2" shape-rendering="crispEdges"/>
<line x1="416.4" y1="549.2" x2="427.2" y2="549.2" stroke="#111" stroke-width="2" shape-rendering="crispEdges"/>
<path d="M421.2 546.0L424.3 549.2L421.2 552.4000000000001L418.09999999999997 549.2Z" fill="#111"/>
<line x1="432.40000000000003" y1="549.2" x2="434.2" y2="549.2" stroke="#111" stroke-width="2" shape-rendering="crispEdges"/>
<text x="437.3" y="552.5" font-size="12" font-weight="bold" textLength="33.3" lengthAdjust="spacing">GFPv</text>
<line x1="408" y1="565.6" x2="435.0" y2="565.6" stroke="#111" stroke-width="2" shape-rendering="crispEdges"/>
<circle cx="420.9" cy="565.6" r="2.45" fill="#fff" stroke="#111" stroke-width="1.2"/>
<text x="437.0" y="569.2" font-size="12" font-weight="bold" textLength="60.0" lengthAdjust="spacing">HES-1IGv</text>
</svg>
</body></html>
